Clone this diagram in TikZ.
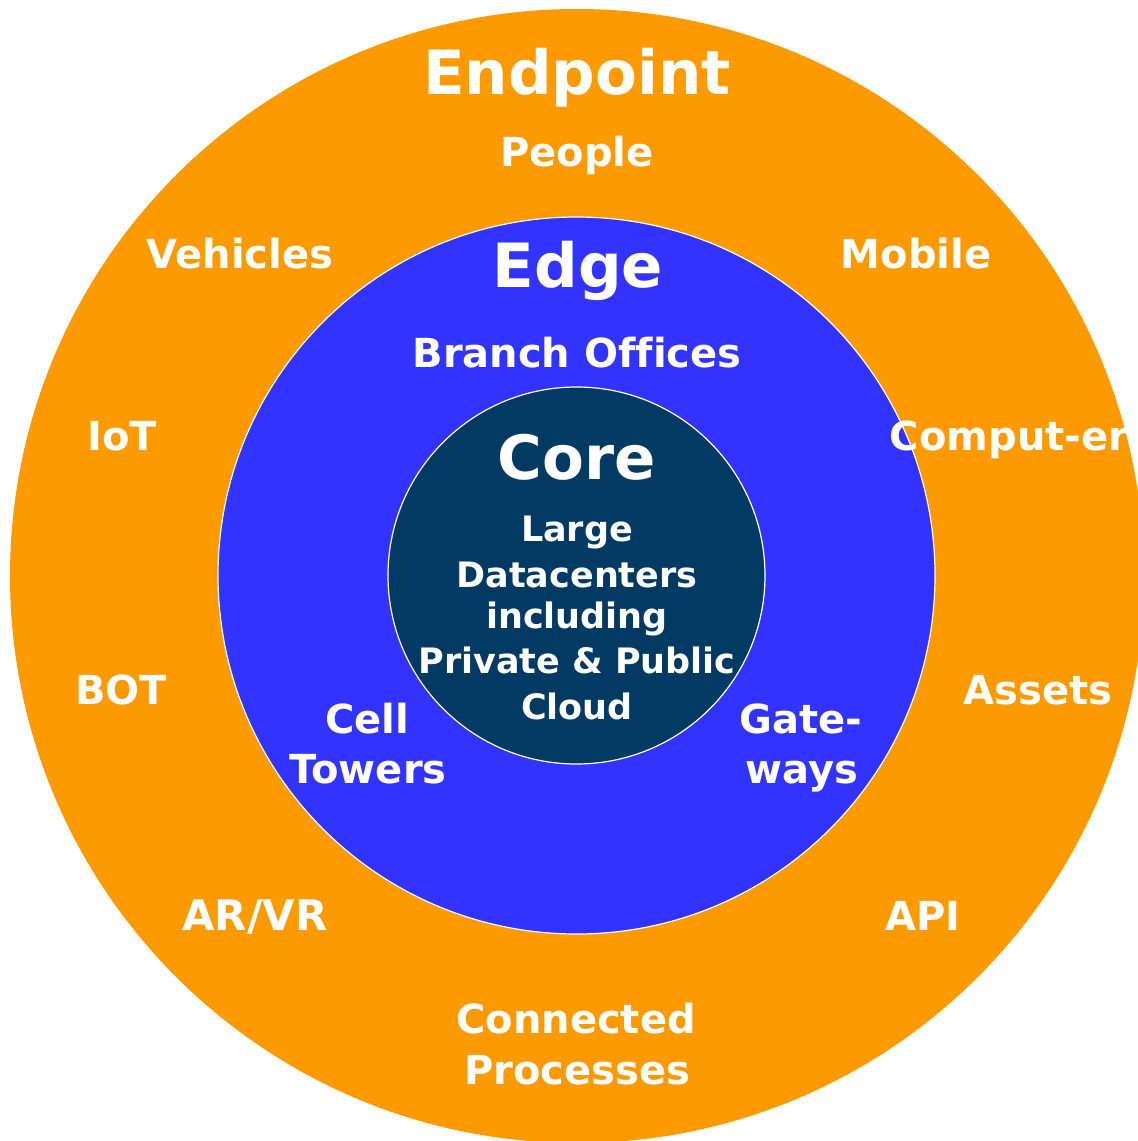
\documentclass[tikz,border=0pt]{standalone}
\usepackage{fontspec}
\setmainfont{DejaVu Sans}[Ligatures=NoCommon]
\definecolor{endorange}{RGB}{253,154,0}
\definecolor{edgeblue}{RGB}{51,51,255}
\definecolor{corenavy}{RGB}{2,58,99}
\begin{document}
\begin{tikzpicture}[x=1pt,y=-1pt,
  ring/.style={circle,inner sep=0pt},
  title/.style={text=white,inner sep=0pt,anchor=base,font=\bfseries\fontsize{61}{70}\selectfont},
  lab/.style={text=white,inner sep=0pt,anchor=base,font=\bfseries\fontsize{40}{48}\selectfont},
  corelab/.style={text=white,inner sep=0pt,anchor=base,font=\bfseries\fontsize{35}{42}\selectfont}]
\useasboundingbox (0,0) rectangle (1138,1141);
\fill[white] (0,0) rectangle (1138,1141);
\node[ring,fill=endorange,minimum size=1134pt] (outer) at (577,576) {};
\node[ring,fill=edgeblue,draw=white,line width=1.2pt,minimum size=717pt] (edge) at (576.5,575.5) {};
\node[ring,fill=corenavy,draw=white,line width=1.2pt,minimum size=377pt] (core) at (576.5,575.5) {};
% titles
\node[title] (tEnd) at (577,94) {Endpoint};
\node[title] (tEdge) at (578,287) {Edge};
\node[title] (tCore) at (577,479) {Core};
% core text
\node[corelab] (c1) at (577,541) {Large};
\node[corelab] (c2) at (577,587) {Datacenters};
\node[corelab] (c3) at (577,628) {including};
\node[corelab] (c4) at (577,673) {Private \& Public};
\node[corelab] (c5) at (577,719) {Cloud};
% edge labels
\node[lab] (branch) at (577,367) {Branch Offices};
\node[lab] (cell1) at (367,733) {Cell};
\node[lab] (cell2) at (368,783) {Towers};
\node[lab] (gate1) at (801,733) {Gate-};
\node[lab] (gate2) at (802,783) {ways};
% endpoint labels
\node[lab] (people) at (577,166) {People};
\node[lab] (vehicles) at (240,268) {Vehicles};
\node[lab] (mobile) at (916,268) {Mobile};
\node[lab] (iot) at (122,450) {IoT};
\node[lab] (computer) at (1009,450) {Comput-er};
\node[lab] (bot) at (121,704) {BOT};
\node[lab] (assets) at (1038,704) {Assets};
\node[lab,font=\bfseries\fontsize{42}{48}\selectfont] (arvr) at (255,930) {AR/VR};
\node[lab] (api) at (923,930) {API};
\node[lab] (proc1) at (576,1033) {Connected};
\node[lab] (proc2) at (577,1084) {Processes};
\end{tikzpicture}
\end{document}
